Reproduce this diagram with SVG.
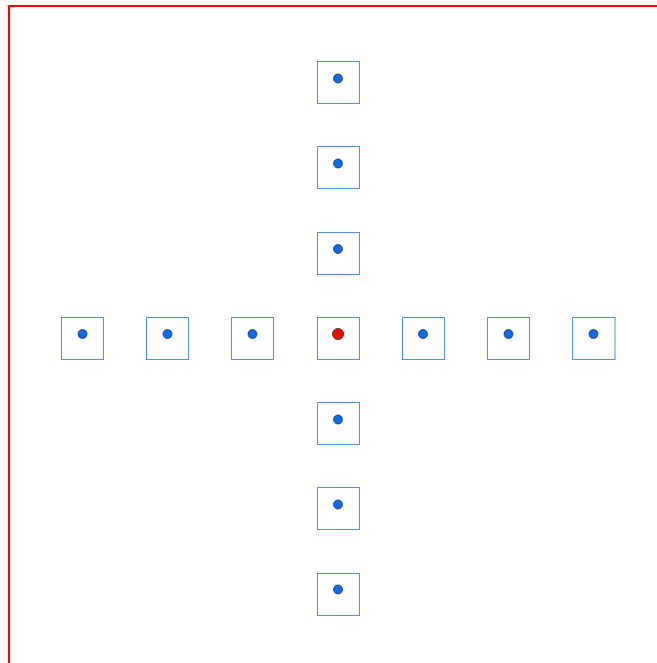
<svg xmlns="http://www.w3.org/2000/svg" width="657" height="663" viewBox="0 0 657 663">
<style>
.box{fill:#fff;stroke:#4a90e2;stroke-width:1}
.dot{fill:#0a6cf5;stroke:#222;stroke-width:0.7}
.center{fill:#ff0000;stroke:#222;stroke-width:0.8}
</style>
<rect x="0" y="0" width="657" height="663" fill="#fff"/>
<path d="M9,663 V6 H657" fill="none" stroke="#ff0000" stroke-width="2.2"/>
<g id="nodes">
<g id="n-top3"><rect class="box" x="317.5" y="61.5" width="42" height="42"/><circle class="dot" cx="338" cy="78.5" r="4.5"/></g>
<g id="n-top2"><rect class="box" x="317.5" y="146.5" width="42" height="42"/><circle class="dot" cx="338" cy="163.5" r="4.5"/></g>
<g id="n-top1"><rect class="box" x="317.5" y="232.5" width="42" height="42"/><circle class="dot" cx="338" cy="249" r="4.5"/></g>
<g id="n-left3"><rect class="box" x="61.5" y="317.5" width="42" height="42"/><circle class="dot" cx="82.5" cy="334" r="4.5"/></g>
<g id="n-left2"><rect class="box" x="146.5" y="317.5" width="42" height="42"/><circle class="dot" cx="167.5" cy="334" r="4.5"/></g>
<g id="n-left1"><rect class="box" x="231.5" y="317.5" width="42" height="42"/><circle class="dot" cx="252.5" cy="334" r="4.5"/></g>
<g id="n-center"><rect class="box" x="317.5" y="317.5" width="42" height="42"/><circle class="center" cx="338" cy="334" r="5.5"/></g>
<g id="n-right1"><rect class="box" x="402.5" y="317.5" width="42" height="42"/><circle class="dot" cx="423" cy="334" r="4.5"/></g>
<g id="n-right2"><rect class="box" x="487.5" y="317.5" width="42" height="42"/><circle class="dot" cx="508.5" cy="334" r="4.5"/></g>
<g id="n-right3"><rect class="box" x="572.5" y="317.5" width="42.5" height="42"/><circle class="dot" cx="593.5" cy="334" r="4.5"/></g>
<g id="n-bottom1"><rect class="box" x="317.5" y="402.5" width="42" height="42"/><circle class="dot" cx="338" cy="419.5" r="4.5"/></g>
<g id="n-bottom2"><rect class="box" x="317.5" y="487.5" width="42" height="42"/><circle class="dot" cx="338" cy="504.5" r="4.5"/></g>
<g id="n-bottom3"><rect class="box" x="317.5" y="573.5" width="42" height="42"/><circle class="dot" cx="338" cy="589.5" r="4.5"/></g>
</g>
<g id="connectors"></g>
</svg>
